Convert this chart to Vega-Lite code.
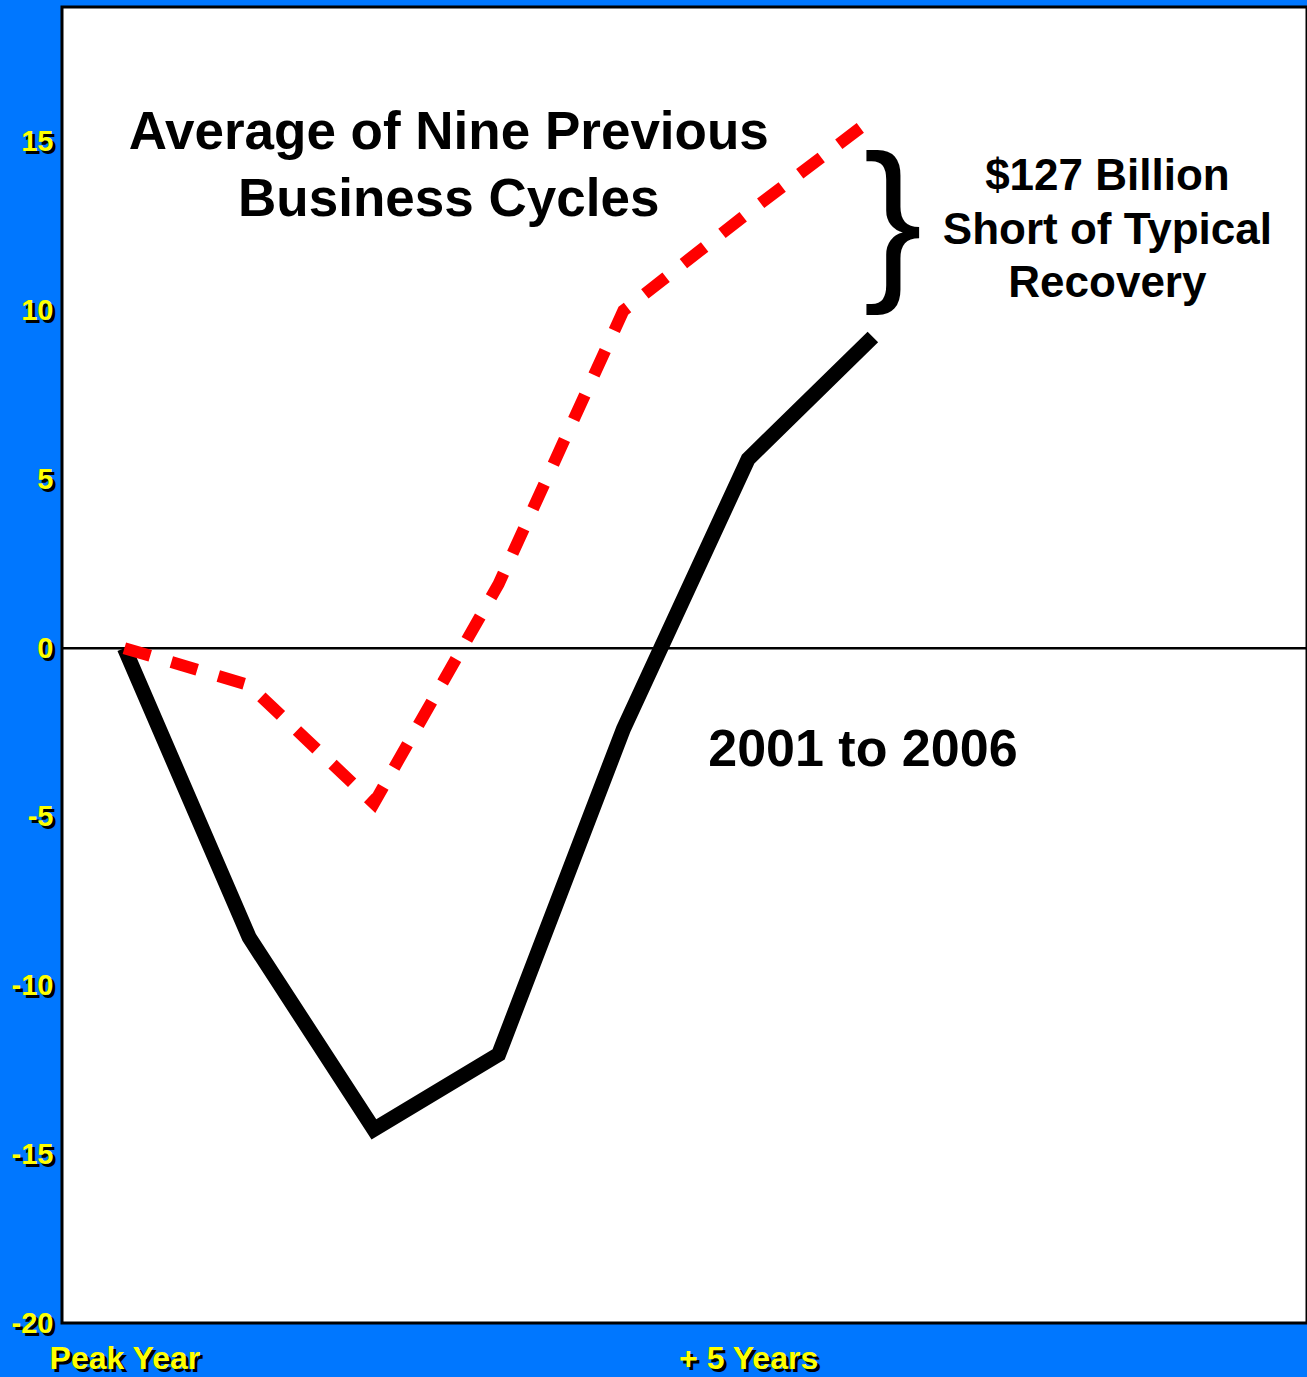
{
  "$schema": "https://vega.github.io/schema/vega-lite/v6.json",
  "width": 1245,
  "height": 1316,
  "autosize": {"type": "none"},
  "padding": {"left": 62, "top": 7, "right": 0, "bottom": 54},
  "background": "#0077FF",
  "config": {
    "view": {"fill": "white", "stroke": "black", "strokeWidth": 3},
    "font": "Liberation Sans"
  },
  "datasets": {
    "series": [
      {"i": 0, "series": "2001 to 2006", "v": 0},
      {"i": 1, "series": "2001 to 2006", "v": -8.57},
      {"i": 2, "series": "2001 to 2006", "v": -14.26},
      {"i": 3, "series": "2001 to 2006", "v": -12.04},
      {"i": 4, "series": "2001 to 2006", "v": -2.4},
      {"i": 5, "series": "2001 to 2006", "v": 5.6},
      {"i": 6, "series": "2001 to 2006", "v": 9.22},
      {"i": 0, "series": "Average", "v": 0},
      {"i": 1, "series": "Average", "v": -1.1},
      {"i": 2, "series": "Average", "v": -4.6},
      {"i": 3, "series": "Average", "v": 1.9},
      {"i": 4, "series": "Average", "v": 10.0},
      {"i": 5, "series": "Average", "v": 12.9},
      {"i": 6, "series": "Average", "v": 15.7}
    ],
    "notes": [
      {"kind": "avg", "x": 2.6, "y": 15.27, "label": "Average of Nine Previous\nBusiness Cycles"},
      {"kind": "gap", "x": 7.88, "y": 13.96, "label": "$127 Billion\nShort of Typical\nRecovery"},
      {"kind": "period", "x": 5.92, "y": -3.02, "label": "2001 to 2006"},
      {"kind": "brace", "x": 6.16, "y": 12.55, "label": "}"}
    ]
  },
  "layer": [
    {
      "data": {"values": [{"z": 0}]},
      "mark": {"type": "rule", "stroke": "black", "strokeWidth": 2.5},
      "encoding": {
        "y": {
          "field": "z", "type": "quantitative",
          "scale": {"domain": [-20, 19], "nice": false, "zero": false},
          "axis": {
            "orient": "left", "values": [-20, -15, -10, -5, 0, 5, 10, 15],
            "labelExpr": "replace(datum.label, '\u2212', '-')",
            "title": null, "domain": false, "ticks": false, "tickSize": 0, "grid": false,
            "labelColor": "black", "labelFont": "Liberation Sans", "labelFontWeight": "bold",
            "labelFontSize": 29, "labelPadding": 6, "labelOffset": 3, "zindex": 0
          }
        }
      }
    },
    {
      "data": {"name": "series"},
      "transform": [{"filter": "datum.series == '2001 to 2006'"}],
      "mark": {"type": "line", "stroke": "black", "strokeWidth": 15, "strokeCap": "butt", "strokeJoin": "miter"},
      "encoding": {
        "x": {
          "field": "i", "type": "quantitative",
          "scale": {"domain": [-0.5, 9.48], "nice": false, "zero": false},
          "axis": {
            "orient": "bottom", "values": [0, 5],
            "labelExpr": "datum.value == 0 ? 'Peak Year' : '+ 5 Years'",
            "title": null, "domain": false, "ticks": false, "tickSize": 0, "grid": false,
            "labelColor": "black", "labelFont": "Liberation Sans", "labelFontWeight": "bold",
            "labelFontSize": 32, "labelPadding": 23, "labelOffset": 3, "zindex": 0
          }
        },
        "y": {
          "field": "v", "type": "quantitative",
          "scale": {"domain": [-20, 19], "nice": false, "zero": false},
          "axis": {
            "orient": "left", "values": [-20, -15, -10, -5, 0, 5, 10, 15],
            "labelExpr": "replace(datum.label, '\u2212', '-')",
            "title": null, "domain": false, "ticks": false, "tickSize": 0, "grid": false,
            "labelColor": "#FFFF00", "labelFont": "Liberation Sans", "labelFontWeight": "bold",
            "labelFontSize": 29, "labelPadding": 9, "zindex": 1
          }
        }
      }
    },
    {
      "data": {"name": "series"},
      "transform": [{"filter": "datum.series == 'Average'"}],
      "mark": {"type": "line", "stroke": "#FF0000", "strokeWidth": 12, "strokeDash": [27, 22], "strokeCap": "butt"},
      "encoding": {
        "x": {
          "field": "i", "type": "quantitative",
          "scale": {"domain": [-0.5, 9.48], "nice": false, "zero": false},
          "axis": {
            "orient": "bottom", "values": [0, 5],
            "labelExpr": "datum.value == 0 ? 'Peak Year' : '+ 5 Years'",
            "title": null, "domain": false, "ticks": false, "tickSize": 0, "grid": false,
            "labelColor": "#FFFF00", "labelFont": "Liberation Sans", "labelFontWeight": "bold",
            "labelFontSize": 32, "labelPadding": 20, "zindex": 1
          }
        },
        "y": {"field": "v", "type": "quantitative", "scale": {"domain": [-20, 19], "nice": false, "zero": false}, "axis": null}
      }
    },
    {
      "data": {"name": "notes"},
      "transform": [{"filter": "datum.kind == 'avg'"}],
      "mark": {"type": "text", "font": "Liberation Sans", "fontWeight": "bold", "fontSize": 53, "lineHeight": 67, "lineBreak": "\n", "align": "center", "baseline": "middle", "color": "black"},
      "encoding": {
        "x": {"field": "x", "type": "quantitative", "scale": {"domain": [-0.5, 9.48], "nice": false, "zero": false}, "axis": null},
        "y": {"field": "y", "type": "quantitative", "scale": {"domain": [-20, 19], "nice": false, "zero": false}, "axis": null},
        "text": {"field": "label"}
      }
    },
    {
      "data": {"name": "notes"},
      "transform": [{"filter": "datum.kind == 'gap'"}],
      "mark": {"type": "text", "font": "Liberation Sans", "fontWeight": "bold", "fontSize": 44, "lineHeight": 53.5, "lineBreak": "\n", "align": "center", "baseline": "middle", "color": "black"},
      "encoding": {
        "x": {"field": "x", "type": "quantitative", "scale": {"domain": [-0.5, 9.48], "nice": false, "zero": false}, "axis": null},
        "y": {"field": "y", "type": "quantitative", "scale": {"domain": [-20, 19], "nice": false, "zero": false}, "axis": null},
        "text": {"field": "label"}
      }
    },
    {
      "data": {"name": "notes"},
      "transform": [{"filter": "datum.kind == 'period'"}],
      "mark": {"type": "text", "font": "Liberation Sans", "fontWeight": "bold", "fontSize": 52, "align": "center", "baseline": "middle", "color": "black"},
      "encoding": {
        "x": {"field": "x", "type": "quantitative", "scale": {"domain": [-0.5, 9.48], "nice": false, "zero": false}, "axis": null},
        "y": {"field": "y", "type": "quantitative", "scale": {"domain": [-20, 19], "nice": false, "zero": false}, "axis": null},
        "text": {"field": "label"}
      }
    },
    {
      "data": {"name": "notes"},
      "transform": [{"filter": "datum.kind == 'brace'"}],
      "mark": {"type": "text", "font": "Liberation Sans", "fontWeight": "normal", "fontSize": 176, "align": "center", "baseline": "middle", "color": "black"},
      "encoding": {
        "x": {"field": "x", "type": "quantitative", "scale": {"domain": [-0.5, 9.48], "nice": false, "zero": false}, "axis": null},
        "y": {"field": "y", "type": "quantitative", "scale": {"domain": [-20, 19], "nice": false, "zero": false}, "axis": null},
        "text": {"field": "label"}
      }
    }
  ],
  "resolve": {"axis": {"x": "independent", "y": "independent"}}
}
